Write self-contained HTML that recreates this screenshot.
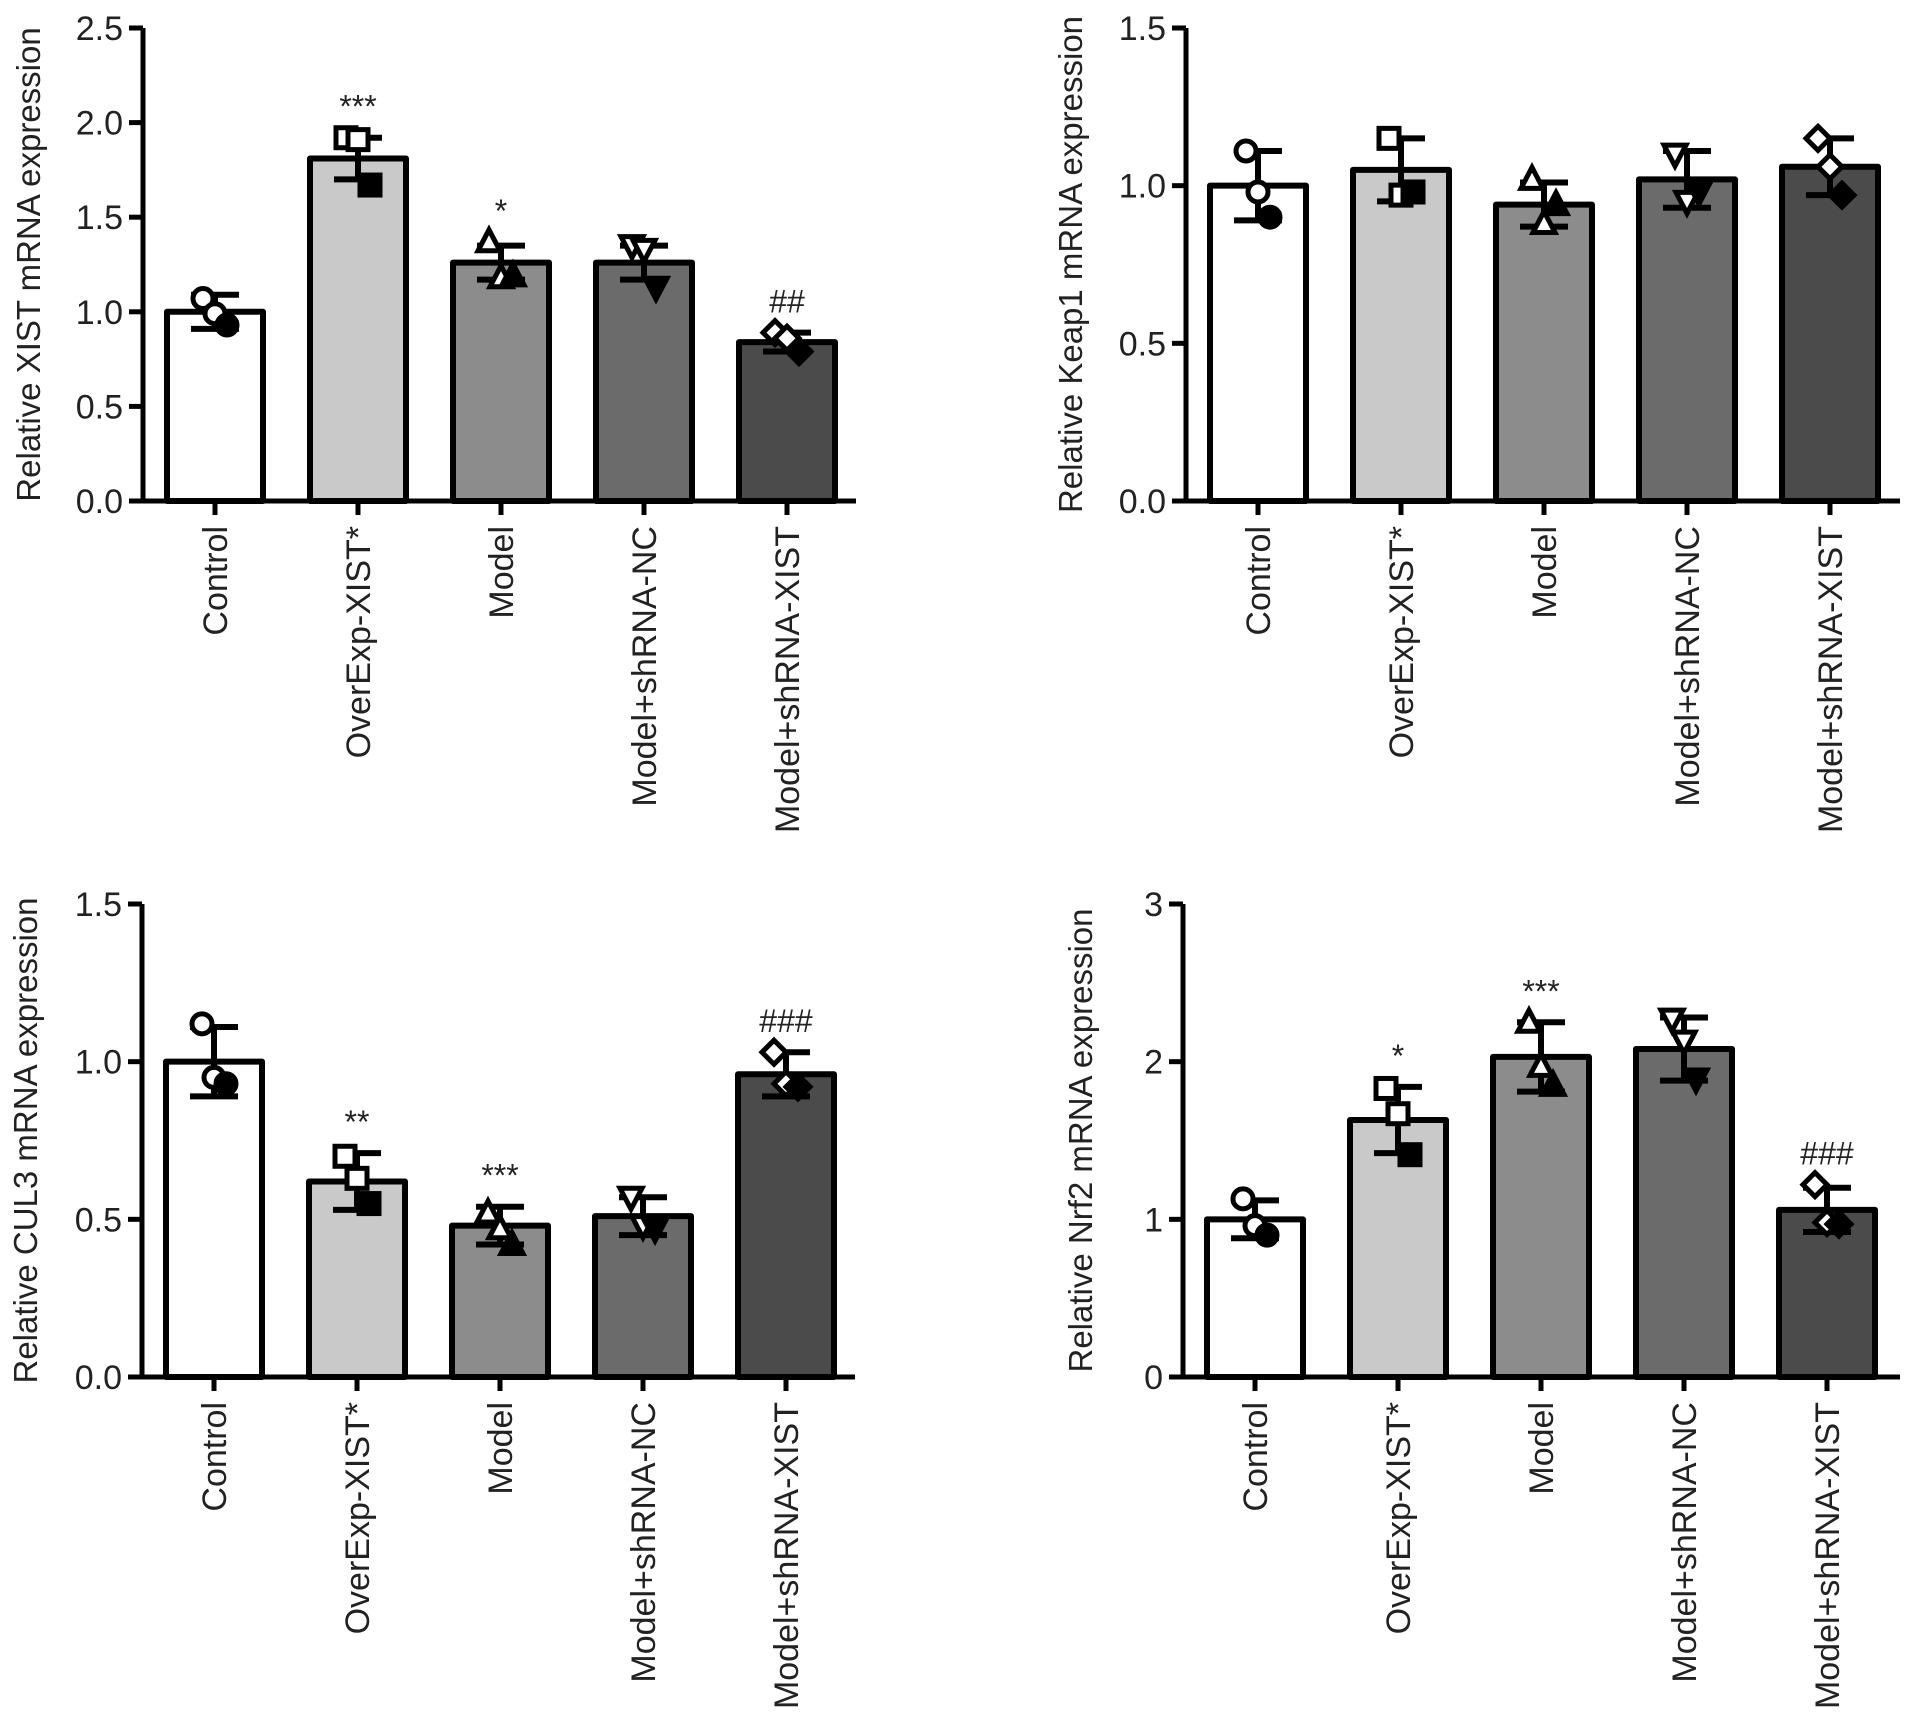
<!DOCTYPE html>
<html><head><meta charset="utf-8">
<style>
html,body{margin:0;padding:0;background:#fff;}
svg{display:block;font-family:"Liberation Sans",Arial,sans-serif;}
</style></head>
<body>
<svg id="fig" width="1913" height="1716" viewBox="0 0 1913 1716" xmlns="http://www.w3.org/2000/svg"></svg>
<script>
const categories = ["Control","OverExp-XIST*","Model","Model+shRNA-NC","Model+shRNA-XIST"];
const fills = ["#ffffff","#c9c9c9","#8c8c8c","#6b6b6b","#4b4b4b"];
const markers = ["circle","square","triangle","itriangle","diamond"];

const xistMeans = [1.0, 1.81, 1.26, 1.26, 0.84];
const xistSD = [0.09, 0.11, 0.09, 0.09, 0.05];
const xistPoints = [[1.07,0.99,0.93],[1.92,1.91,1.67],[1.37,1.18,1.19],[1.35,1.33,1.13],[0.89,0.86,0.79]];
const xistSig = ["","***","*","","##"];
const xistTicks = ["0.0","0.5","1.0","1.5","2.0","2.5"];

const keapMeans = [1.0, 1.05, 0.94, 1.02, 1.06];
const keapSD = [0.11, 0.10, 0.07, 0.09, 0.09];
const keapPoints = [[1.11,0.98,0.90],[1.15,0.97,0.98],[1.02,0.88,0.94],[1.10,0.95,0.98],[1.15,1.06,0.97]];
const keapSig = ["","","","",""];
const keapTicks = ["0.0","0.5","1.0","1.5"];

const culMeans = [1.0, 0.62, 0.48, 0.51, 0.96];
const culSD = [0.11, 0.09, 0.06, 0.06, 0.07];
const culPoints = [[1.12,0.95,0.93],[0.70,0.63,0.55],[0.52,0.47,0.42],[0.57,0.48,0.47],[1.03,0.93,0.92]];
const culSig = ["","**","***","","###"];
const culTicks = ["0.0","0.5","1.0","1.5"];

const nrfMeans = [1.0, 1.63, 2.03, 2.08, 1.06];
const nrfSD = [0.12, 0.21, 0.22, 0.20, 0.14];
const nrfPoints = [[1.13,0.96,0.90],[1.83,1.67,1.41],[2.25,1.97,1.85],[2.27,2.13,1.89],[1.22,0.98,0.97]];
const nrfSig = ["","*","***","","###"];
const nrfTicks = ["0","1","2","3"];

const NS = "http://www.w3.org/2000/svg";
const svg = document.getElementById("fig");
function mk(tag, attrs, parent){
  const e = document.createElementNS(NS, tag);
  for (const k in attrs) e.setAttribute(k, attrs[k]);
  (parent||svg).appendChild(e);
  return e;
}

function panel(o){
  const g = mk("g", {});
  
  
  const yTop = o.y0 - 473, ymax = o.ymax;
  const yS = v => o.y0 - v / ymax * 473;
  const xS = i => o.x0 + 72 + i * 143;
  o.means.forEach((m, i) => {
    const r = mk("rect", {x: xS(i) - 48, y: yS(m), width: 96, height: o.y0 - yS(m), fill: fills[i], stroke: "#000", "stroke-width": 6, "stroke-linejoin": "round"}, g);
    
    
  });
  o.means.forEach((m, i) => {
    const x = xS(i), sd = o.sd[i];
    const e = mk("path", {d: `M${x} ${yS(m+sd)}V${yS(m-sd)}M${x-24} ${yS(m+sd)}H${x+24}M${x-24} ${yS(m-sd)}H${x+24}`, stroke: "#000", "stroke-width": 6, fill: "none"}, g);
    
    
  });
  o.points.forEach((pts, i) => {
    const offs = [-12, 0, 12];
    pts.forEach((v, j) => {
      const cx = xS(i) + offs[j], cy = yS(v);
      const fill = j === 2 ? "#000" : "#fff";
      let el, t = markers[i], s = 10;
      if (t === "circle") el = mk("circle", {cx, cy, r: s}, g);
      else if (t === "square") el = mk("rect", {x: cx-s, y: cy-s, width: 2*s, height: 2*s}, g);
      else if (t === "triangle") el = mk("polygon", {points: `${cx},${cy-s-2} ${cx+s+1},${cy+s-1} ${cx-s-1},${cy+s-1}`}, g);
      else if (t === "itriangle") el = mk("polygon", {points: `${cx},${cy+s+2} ${cx+s+1},${cy-s+1} ${cx-s-1},${cy-s+1}`}, g);
      else el = mk("polygon", {points: `${cx},${cy-s-2} ${cx+s+2},${cy} ${cx},${cy+s+2} ${cx-s-2},${cy}`}, g);
      el.setAttribute("fill", fill); el.setAttribute("stroke", "#000"); el.setAttribute("stroke-width", 5);
      
      
    });
  });
  const ax = mk("path", {d: `M${o.x0} ${yTop}V${o.y0}H${o.xEnd}`, stroke: "#000", "stroke-width": 5, fill: "none"}, g);
  
  
  o.ticks.forEach((t, k) => {
    const y = yS(parseFloat(t));
    mk("line", {x1: o.x0 - 14, x2: o.x0, y1: y, y2: y, stroke: "#000", "stroke-width": 5}, g);
    const tx = mk("text", {x: o.x0 - 20, y: y + 12, "text-anchor": "end", "font-size": 34, fill: "#222"}, g);
    tx.textContent = t;
    
    
  });
  categories.forEach((c, i) => {
    const x = xS(i);
    mk("line", {x1: x, x2: x, y1: o.y0, y2: o.y0 + 14, stroke: "#000", "stroke-width": 5}, g);
    const tx = mk("text", {x: 0, y: 0, "text-anchor": "end", "font-size": 34, fill: "#222", transform: `translate(${x+12},${o.y0+25}) rotate(-90)`}, g);
    tx.textContent = c;
    
    
  });
  o.sig.forEach((s, i) => {
    if (!s) return;
    const top = Math.max(o.means[i] + o.sd[i], Math.max(...o.points[i]));
    const tx = mk("text", {x: xS(i), y: yS(top) - 20, "text-anchor": "middle", "font-size": 32, fill: "#222"}, g);
    tx.textContent = s;
    
    
  });
  const ttl = mk("text", {x: 0, y: 0, "text-anchor": "middle", "font-size": 33, fill: "#222", transform: `translate(${o.titleX},${(yTop+o.y0)/2}) rotate(-90)`}, g);
  ttl.textContent = o.title;
  
  
}

panel({name: "xist-chart", x0: 143, y0: 501, xEnd: 856, ymax: 2.5, means: xistMeans, sd: xistSD, points: xistPoints, sig: xistSig, ticks: xistTicks, title: "Relative XIST mRNA expression", titleX: 40});
panel({name: "keap1-chart", x0: 1186, y0: 501, xEnd: 1900, ymax: 1.5, means: keapMeans, sd: keapSD, points: keapPoints, sig: keapSig, ticks: keapTicks, title: "Relative Keap1 mRNA expression", titleX: 1082});
panel({name: "cul3-chart", x0: 142, y0: 1377, xEnd: 855, ymax: 1.5, means: culMeans, sd: culSD, points: culPoints, sig: culSig, ticks: culTicks, title: "Relative CUL3 mRNA expression", titleX: 37});
panel({name: "nrf2-chart", x0: 1183, y0: 1377, xEnd: 1900, ymax: 3, means: nrfMeans, sd: nrfSD, points: nrfPoints, sig: nrfSig, ticks: nrfTicks, title: "Relative Nrf2 mRNA expression", titleX: 1092});
</script>
</body></html>
